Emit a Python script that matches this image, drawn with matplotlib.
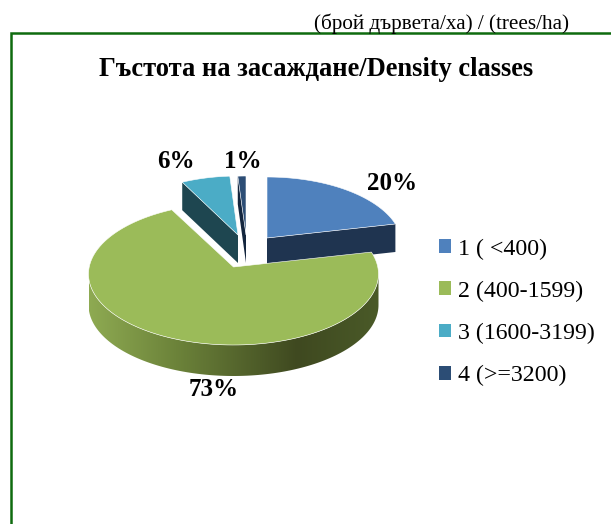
"""3D-looking pie of planting density classes."""
import matplotlib
matplotlib.use('Agg')
import matplotlib.pyplot as plt
import numpy as np
from matplotlib.colors import LinearSegmentedColormap
from matplotlib.patches import Patch, Polygon

labels = ['1 ( <400)', '2 (400-1599)', '3 (1600-3199)', '4 (>=3200)']
values = [20, 73, 6, 1]

title = 'Гъстота на засаждане/Density classes'
unit_note = '(брой дървета/ха) / (trees/ha)'

colors = ['#4F81BD', '#9BBB59', '#4BACC6', '#2C4D75']
side_colors = ['#1F3450', '#3F4A20', '#1E4650', '#14263E']

# ellipse of each slice: centre x, centre y, rx, ry, apex y shift (pixels)
geom = [(267, 245, 135, 68, -7),
        (233.5, 274, 145, 71, -7),
        (238, 241, 131, 65, -6),
        (246, 241, 131, 65, -6)]
depths = [28, 31, 28, 28]
label_pos = [(392, 181), (214, 388), (176, 159), (243, 159)]

plt.rcParams['font.family'] = ['Liberation Serif', 'DejaVu Serif']

fig = plt.figure(figsize=(6.11, 5.24), dpi=100)
ax = fig.add_axes([0, 0, 1, 1])
ax.set_xlim(0, 611)
ax.set_ylim(524, 0)
ax.axis('off')


def arc(g, a0, a1, n=120):
    # angles are degrees clockwise from 12 o'clock
    t = np.radians(np.linspace(a0, a1, n))
    return np.column_stack([g[0] + g[2] * np.sin(t), g[1] - g[3] * np.cos(t)])


edges = np.cumsum([0] + values) * 3.6
draw_order = [0, 3, 2, 1]

for i in draw_order:
    g = geom[i]
    a0, a1 = edges[i], edges[i + 1]
    d = depths[i]
    apex = np.array([g[0], g[1] + g[4]])
    down = np.array([0, d])

    # cut faces that look towards the viewer
    if 0 < a1 < 180:
        end = arc(g, a1, a1, 1)[0]
        ax.add_patch(Polygon([apex, end, end + down, apex + down], fc=side_colors[i], ec='none'))
    if 180 < a0 < 360:
        start = arc(g, a0, a0, 1)[0]
        ax.add_patch(Polygon([apex, start, start + down, apex + down], fc=side_colors[i], ec='none'))

    # outer wall, shaded left to right
    w0, w1 = max(a0, 90), min(a1, 270)
    if w1 > w0:
        top = arc(g, w0, w1)
        wall = Polygon(np.vstack([top, (top + down)[::-1]]), fc='none', ec='none')
        ax.add_patch(wall)
        cmap = LinearSegmentedColormap.from_list(
            'wall', [(0, '#8EAA52'), (0.3, '#6C833A'), (0.72, '#3F4920'), (1, '#4A5A28')])
        im = ax.imshow(np.linspace(0, 1, 256)[None, :], cmap=cmap, aspect='auto',
                       extent=[g[0] - g[2], g[0] + g[2], 524, 0], zorder=1)
        im.set_clip_path(wall)

    # top surface
    ax.add_patch(Polygon(np.vstack([apex, arc(g, a0, a1)]), fc=colors[i], ec='white', lw=0.4, zorder=2))

ax.set_xlim(0, 611)
ax.set_ylim(524, 0)

for v, (x, y) in zip(values, label_pos):
    ax.text(x, y + 2, f'{v}%', ha='center', va='center', fontsize=18, fontweight='bold', color='black')

ax.text(316, 70, title, ha='center', va='center', fontsize=19.1, fontweight='bold')
ax.text(569, 24, unit_note, ha='right', va='center', fontsize=15.2)

# frame, open to the right and at the bottom
ax.plot([11, 11, 611], [524, 32.5, 32.5], color='#0F6B0F', lw=1.8, solid_joinstyle='miter', clip_on=False)

handles = [Patch(fc=c, ec='none', label=l) for c, l in zip(colors, labels)]
ax.legend(handles=handles, loc='upper left', bbox_to_anchor=(0.7185, 0.545), frameon=False,
          fontsize=17.2, handlelength=0.52, handleheight=0.52, handletextpad=0.28,
          labelspacing=0.88, borderpad=0, borderaxespad=0)

fig.savefig('out.png', dpi=100)
